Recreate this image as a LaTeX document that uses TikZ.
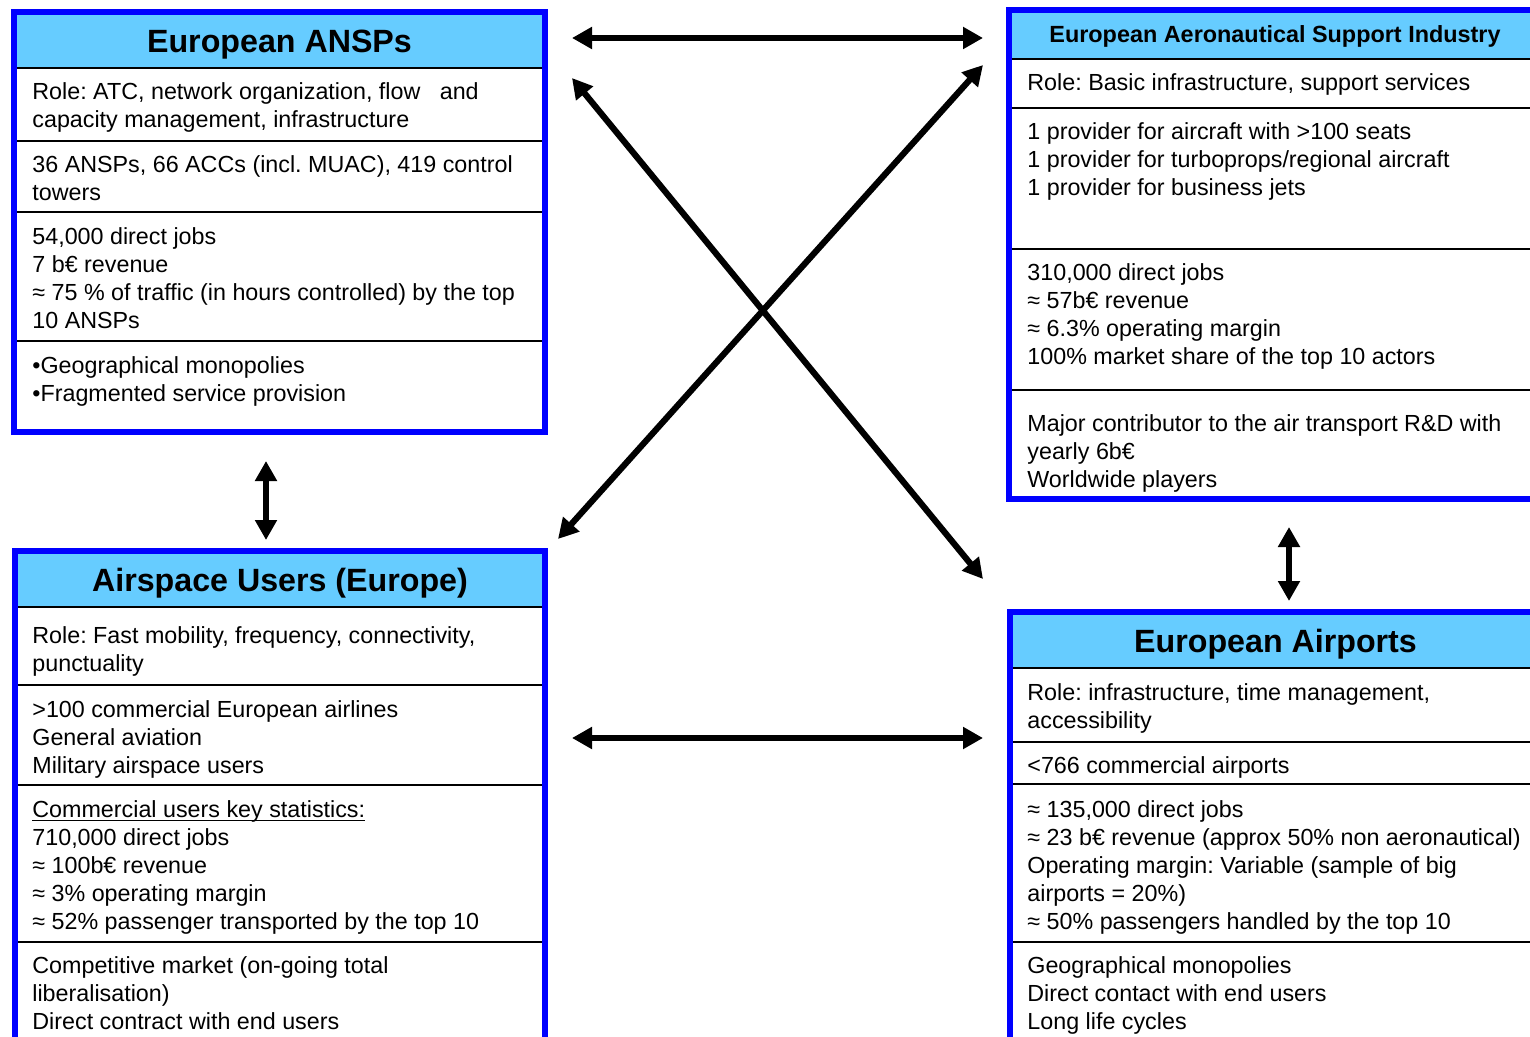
\documentclass[tikz,border=0pt]{standalone}
\usepackage{fontspec}
\setmainfont{Liberation Sans}
\usetikzlibrary{arrows.meta}
\definecolor{headblue}{RGB}{102,204,255}
\definecolor{frameblue}{RGB}{0,0,255}
\frenchspacing
% multi-line cell text; the base anchor sits on the first line's baseline
\newcommand\celltext[1]{\parbox[t]{262pt}{\raggedright #1}}
% thin underline set just under the baseline
\newcommand\ulthin[1]{\leavevmode\setbox0\hbox{#1}\rlap{\rule[-1.6pt]{\wd0}{0.55pt}}\box0}
\tikzset{
  frame/.style={draw=frameblue, line width=2.6pt},
  headfill/.style={fill=headblue},
  sepline/.style={draw=black, line width=1.1pt},
  title/.style={anchor=base, inner sep=0pt, font=\fontsize{16.1}{18}\bfseries\selectfont},
  smalltitle/.style={anchor=base, inner sep=0pt, font=\fontsize{11.7}{14}\bfseries\selectfont},
  cell/.style={anchor=base west, inner sep=0pt, font=\fontsize{11.65}{14}\selectfont},
  link/.style={line width=3.1pt,
    {Triangle[length=10pt,width=10.5pt]}-{Triangle[length=10pt,width=10.5pt]}},
}
\begin{document}
\begin{tikzpicture}[x=0.5pt,y=-0.5pt]
\useasboundingbox (0,0) rectangle (1530,1037);
\clip (0,0) rectangle (1530,1037);

% ---------- European ANSPs ----------
\fill[headfill] (14,12) rectangle (545,68);
\foreach \y in {68,141,212,341} \draw[sepline] (14,\y) -- (545,\y);
\draw[frame] (14,12) rectangle (545,432);
\node[title] (anspT) at (279.5,52.5) {European ANSPs};
\node[cell] (anspA) at (32,99.5) {\celltext{Role: ATC, network organization, flow~~~and\\capacity management, infrastructure}};
\node[cell] (anspB) at (32,172.5) {\celltext{36 ANSPs, 66 ACCs (incl. MUAC), 419 control\\towers}};
\node[cell] (anspC) at (32,244.5) {\celltext{54,000 direct jobs\\7 b€ revenue\\≈ 75 \% of traffic (in hours controlled) by the top\\10 ANSPs}};
\node[cell] (anspD) at (32,373.5) {\celltext{\textbullet Geographical monopolies\\\textbullet Fragmented service provision}};

% ---------- European Aeronautical Support Industry ----------
\fill[headfill] (1009,10) rectangle (1541,59);
\foreach \y in {59,108,249,390} \draw[sepline] (1009,\y) -- (1541,\y);
\draw[frame] (1009,10) rectangle (1541,499);
\node[smalltitle] (indT) at (1275,42.5) {European Aeronautical Support Industry};
\node[cell] (indA) at (1027,90.5) {\celltext{Role: Basic infrastructure, support services}};
\node[cell] (indB) at (1027,139.5) {\celltext{1 provider for aircraft with >100 seats\\1 provider for turboprops/regional aircraft\\1 provider for business jets}};
\node[cell] (indC) at (1027,280.5) {\celltext{310,000 direct jobs\\≈ 57b€ revenue\\≈ 6.3\% operating margin\\100\% market share of the top 10 actors}};
\node[cell] (indD) at (1027,431.5) {\celltext{Major contributor to the air transport R\&D with\\yearly 6b€\\Worldwide players}};

% ---------- Airspace Users (Europe) ----------
\fill[headfill] (15,551) rectangle (545,607);
\foreach \y in {607,685,785,942} \draw[sepline] (15,\y) -- (545,\y);
\draw[frame] (15,551) rectangle (545,1060);
\node[title] (usrT) at (280,591.5) {Airspace Users (Europe)};
\node[cell] (usrA) at (32,643.5) {\celltext{Role: Fast mobility, frequency, connectivity,\\punctuality}};
\node[cell] (usrB) at (32,717.5) {\celltext{>100 commercial European airlines\\General aviation\\Military airspace users}};
\node[cell] (usrC) at (32,817.5) {\celltext{\ulthin{Commercial users key statistics:}\\710,000 direct jobs\\≈ 100b€ revenue\\≈ 3\% operating margin\\≈ 52\% passenger transported by the top 10}};
\node[cell] (usrD) at (32,973.5) {\celltext{Competitive market (on-going total\\liberalisation)\\Direct contract with end users}};

% ---------- European Airports ----------
\fill[headfill] (1010,612) rectangle (1541,668);
\foreach \y in {668,742,784,942} \draw[sepline] (1010,\y) -- (1541,\y);
\draw[frame] (1010,612) rectangle (1541,1060);
\node[title] (aptT) at (1275.5,652.5) {European Airports};
\node[cell] (aptA) at (1027,700.5) {\celltext{Role: infrastructure, time management,\\accessibility}};
\node[cell] (aptB) at (1027,773.5) {\celltext{<766 commercial airports}};
\node[cell] (aptC) at (1027,817.5) {\celltext{≈ 135,000 direct jobs\\≈ 23 b€ revenue (approx 50\% non aeronautical)\\Operating margin: Variable (sample of big\\airports = 20\%)\\≈ 50\% passengers handled by the top 10}};
\node[cell] (aptD) at (1027,973.5) {\celltext{Geographical monopolies\\Direct contact with end users\\Long life cycles}};

% ---------- relations between the four actors ----------
\coordinate (anspE)  at (572,38);   \coordinate (indW)  at (983,38);
\coordinate (usrE)   at (572,738);  \coordinate (aptW)  at (983,738);
\coordinate (anspS)  at (266,461);  \coordinate (usrN)  at (266,540);
\coordinate (indS)   at (1289,527); \coordinate (aptN)  at (1289,601);
\coordinate (anspSE) at (572,78);   \coordinate (aptNW) at (983,579);
\coordinate (indSW)  at (983,65);   \coordinate (usrNE) at (558,539);

\draw[link] (anspE) -- (indW);
\draw[link] (usrE) -- (aptW);
\draw[link] (anspS) -- (usrN);
\draw[link] (indS) -- (aptN);
\draw[link] (anspSE) -- (aptNW);
\draw[link] (indSW) -- (usrNE);
\end{tikzpicture}
\end{document}
